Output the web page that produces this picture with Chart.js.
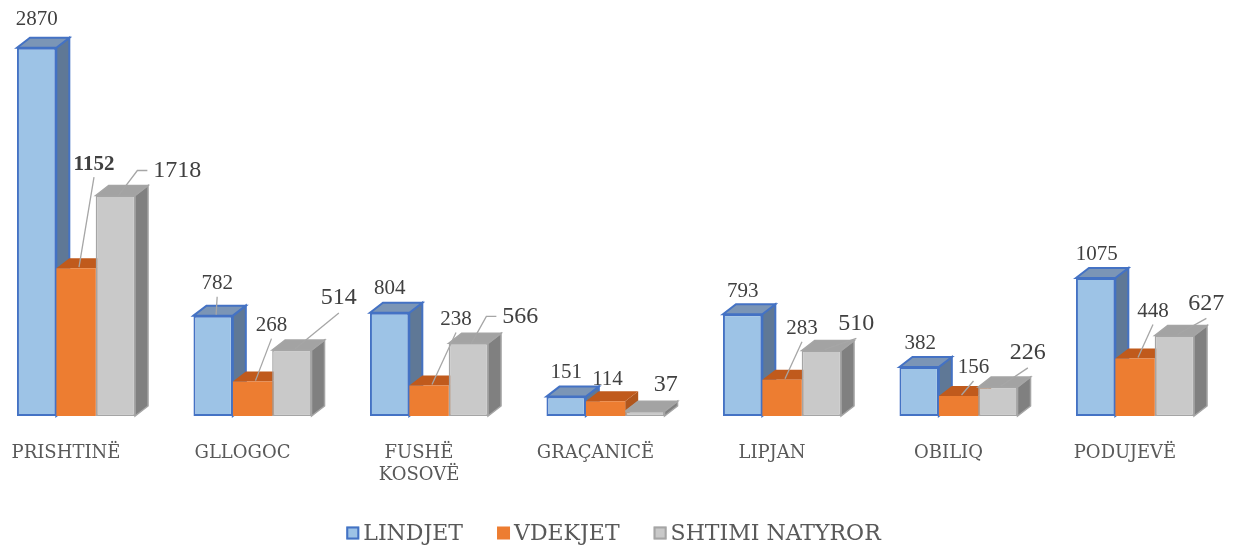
<!DOCTYPE html>
<html>
<head>
<meta charset="utf-8">
<script src="https://cdn.jsdelivr.net/npm/chart.js@4/dist/chart.umd.min.js"></script>
<style>
    html, body { margin: 0; padding: 0; background: #ffffff; }
    #wrap { width: 1233px; height: 545px; position: relative; }
</style>
</head>
<body>
<div id="wrap"><canvas id="birthsChart"></canvas></div>
<script>
// values
const categories = ["PRISHTINË", "GLLOGOC", ["FUSHË", "KOSOVË"], "GRAÇANICË", "LIPJAN", "OBILIQ", "PODUJEVË"];
const seriesNames = ["LINDJET", "VDEKJET", "SHTIMI NATYROR"];
const lindjet = [2870, 782, 804, 151, 793, 382, 1075];
const vdekjet = [1152, 268, 238, 114, 283, 156, 448];
const shtimi = [1718, 514, 566, 37, 510, 226, 627];

// label placement relative to the top of each bar: [dx, dy, leader line]
const labelNudge = [
    [[0, -28, 0], [4, -32, 1], [0, -24, 0], [0, -24, 0], [0, -23, 0], [1, -23, 0], [1, -24, 0]],
    [[18, -104, 1], [19, -56, 1], [27, -66, 1], [2, -22, 0], [20, -51, 1], [15, -28, 1], [18, -47, 1]],
    [[62, -25, 2], [47, -52, 1], [52, -27, 2], [21, -27, 0], [35, -27, 1], [30, -34, 1], [32, -32, 1]]
];
const labelSizes = [21, 21, 24];
const boldLabels = [[1, 0]];

const faceStyles = [
    { front: "#9dc3e6", border: "#4472c4", width: 2, top: "#7b95b6", side: "#5f7896" },
    { front: "#ed7d31", border: "#ed7d31", width: 0, top: "#c05a1c", side: "#b0561d" },
    { front: "#c9c9c9", border: "#a5a5a5", width: 1.5, top: "#a3a3a3", side: "#808080" }
];

const DEPTH_X = 13;
const DEPTH_Y = 10;

// side and top faces go under the front faces Chart.js draws
const depthPlugin = {
    id: "barDepth",
    beforeDatasetsDraw(chart) {
        const { ctx } = chart;
        ctx.save();
        chart.data.datasets.forEach((ds, d) => {
            const style = faceStyles[d];
            chart.getDatasetMeta(d).data.forEach(bar => {
                const left = bar.x - bar.width / 2;
                const right = bar.x + bar.width / 2;
                const top = bar.y;
                const base = bar.base;

                ctx.beginPath();
                ctx.moveTo(right, top);
                ctx.lineTo(right + DEPTH_X, top - DEPTH_Y);
                ctx.lineTo(right + DEPTH_X, base - DEPTH_Y);
                ctx.lineTo(right, base);
                ctx.closePath();
                ctx.fillStyle = style.side;
                ctx.fill();
                if (style.width) {
                    ctx.lineWidth = style.width;
                    ctx.strokeStyle = style.border;
                    ctx.stroke();
                }

                ctx.beginPath();
                ctx.moveTo(left, top);
                ctx.lineTo(left + DEPTH_X, top - DEPTH_Y);
                ctx.lineTo(right + DEPTH_X, top - DEPTH_Y);
                ctx.lineTo(right, top);
                ctx.closePath();
                ctx.fillStyle = style.top;
                ctx.fill();
                if (style.width) {
                    ctx.lineWidth = style.width;
                    ctx.strokeStyle = style.border;
                    ctx.stroke();
                }
            });
        });
        ctx.restore();
    }
};

const valueLabelPlugin = {
    id: "valueLabels",
    afterDatasetsDraw(chart) {
        const { ctx } = chart;
        ctx.save();
        ctx.textAlign = "center";
        ctx.textBaseline = "middle";
        chart.data.datasets.forEach((ds, d) => {
            chart.getDatasetMeta(d).data.forEach((bar, i) => {
                const [dx, dy, leader] = labelNudge[d][i];
                const bold = boldLabels.some(([bd, bi]) => bd === d && bi === i);
                const text = String(ds.data[i]);
                ctx.font = (bold ? "bold " : "") + labelSizes[d] + "px 'Liberation Serif', serif";
                const lx = bar.x + dx;
                const ly = bar.y + dy;
                const half = ctx.measureText(text).width / 2;

                if (leader) {
                    ctx.beginPath();
                    ctx.strokeStyle = "#a6a6a6";
                    ctx.lineWidth = 1.3;
                    if (leader === 2) {
                        // elbow leader coming out of the label's left side
                        ctx.moveTo(lx - half - 6, ly);
                        ctx.lineTo(lx - half - 16, ly);
                        ctx.lineTo(bar.x + 3, bar.y);
                    } else {
                        ctx.moveTo(lx, ly + labelSizes[d] * 0.62);
                        ctx.lineTo(bar.x + 3, bar.y - 1);
                    }
                    ctx.stroke();
                }

                ctx.fillStyle = "#404040";
                ctx.fillText(text, lx, ly);
            });
        });
        ctx.restore();
    }
};

const legendPlugin = {
    id: "bottomLegend",
    afterDraw(chart) {
        const { ctx } = chart;
        const boxSize = 13;
        const textGap = 4;
        const itemGap = 34;
        const y = 533;
        ctx.save();
        ctx.font = "22px 'DejaVu Serif', serif";
        ctx.textBaseline = "middle";
        ctx.textAlign = "left";
        const widths = seriesNames.map(n => ctx.measureText(n).width);
        const total = widths.reduce((s, w) => s + w + boxSize + textGap, 0) + itemGap * (seriesNames.length - 1);
        let x = chart.width / 2 - total / 2 - 3;
        seriesNames.forEach((name, k) => {
            const style = faceStyles[k];
            ctx.fillStyle = style.front;
            ctx.fillRect(x, y - boxSize / 2, boxSize, boxSize);
            if (style.width) {
                ctx.lineWidth = 2;
                ctx.strokeStyle = style.border;
                ctx.strokeRect(x + 1, y - boxSize / 2 + 1, boxSize - 2, boxSize - 2);
            }
            ctx.fillStyle = "#595959";
            ctx.fillText(name, x + boxSize + textGap, y + 1);
            x += boxSize + textGap + widths[k] + itemGap;
        });
        ctx.restore();
    }
};

function makeDataset(k, values) {
    const style = faceStyles[k];
    return {
        label: seriesNames[k],
        data: values,
        backgroundColor: style.front,
        borderColor: style.border,
        borderWidth: style.width,
        borderSkipped: false,
        clip: false
    };
}

new Chart(document.getElementById("birthsChart").getContext("2d"), {
    type: "bar",
    data: {
        labels: categories,
        datasets: [
            makeDataset(0, lindjet),
            makeDataset(1, vdekjet),
            makeDataset(2, shtimi)
        ]
    },
    options: {
        responsive: true,
        maintainAspectRatio: false,
        animation: false,
        categoryPercentage: 0.669,
        barPercentage: 1,
        layout: {
            padding: { left: 76, right: 98, top: 31, bottom: 40 }
        },
        plugins: {
            legend: { display: false },
            tooltip: { enabled: false }
        },
        scales: {
            x: {
                offset: false,
                grid: { display: false },
                border: { display: false },
                ticks: {
                    autoSkip: false,
                    maxRotation: 0,
                    padding: 18,
                    labelOffset: -10,
                    color: "#595959",
                    font: { family: "'DejaVu Serif', serif", size: 18, lineHeight: 1.25 }
                }
            },
            y: {
                display: false,
                min: 0,
                max: 3000
            }
        }
    },
    plugins: [depthPlugin, valueLabelPlugin, legendPlugin]
});
</script>
</body>
</html>
